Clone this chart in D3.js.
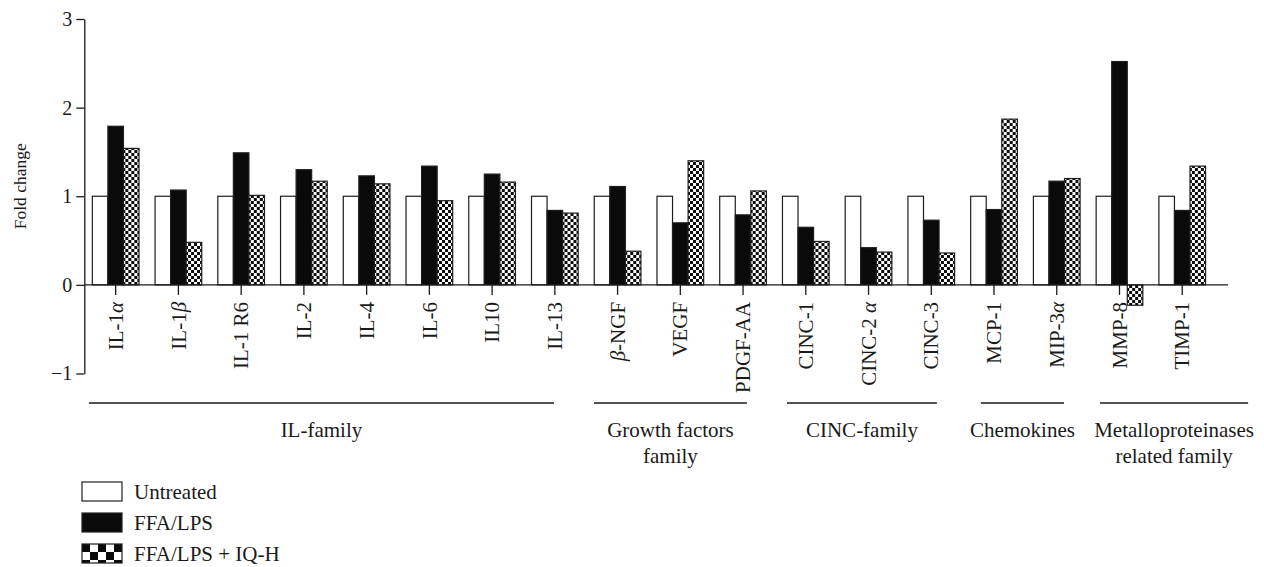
<!DOCTYPE html>
<html>
<head>
<meta charset="utf-8">
<script src="https://cdn.jsdelivr.net/npm/d3@7"></script>
<style>
  html, body { margin: 0; padding: 0; background: #ffffff; }
  svg { display: block; }
  text { font-family: "Liberation Serif", "Times New Roman", serif; fill: #1a1a1a; }
</style>
</head>
<body>
<svg id="chart" width="1264" height="567"></svg>
<script>
// Cytokine array: fold change relative to untreated cells
const categories = ["IL-1α", "IL-1β", "IL-1 R6", "IL-2", "IL-4", "IL-6", "IL10", "IL-13",
  "β-NGF", "VEGF", "PDGF-AA", "CINC-1", "CINC-2 α", "CINC-3", "MCP-1", "MIP-3α", "MMP-8", "TIMP-1"];

const untreated = [1, 1, 1, 1, 1, 1, 1, 1, 1, 1, 1, 1, 1, 1, 1, 1, 1, 1];
const ffaLps    = [1.79, 1.07, 1.49, 1.30, 1.23, 1.34, 1.25, 0.84, 1.11, 0.70, 0.79, 0.65, 0.42, 0.73, 0.85, 1.17, 2.52, 0.84];
const ffaLpsIqh = [1.54, 0.48, 1.01, 1.17, 1.14, 0.95, 1.16, 0.81, 0.38, 1.40, 1.06, 0.49, 0.37, 0.36, 1.87, 1.20, -0.23, 1.34];

const seriesNames = ["Untreated", "FFA/LPS", "FFA/LPS + IQ-H"];
const yTicks = [-1, 0, 1, 2, 3];

// Family brackets under the category labels, spans given in category-index units
const groupNames = [["IL-family"], ["Growth factors", "family"], ["CINC-family"], ["Chemokines"], ["Metalloproteinases", "related family"]];
const groupSpans = [[-0.426, 6.986], [7.624, 10.062], [10.70, 13.09], [13.79, 15.115], [15.69, 18.05]];

const svg = d3.select("#chart");
const ink = "#1a1a1a";
const labelSize = 21;

const x = d3.scaleBand().domain(categories).range([84.3, 1213.6]).paddingInner(0.256).paddingOuter(0.128);
const xs = d3.scaleBand().domain(seriesNames).range([0, x.bandwidth()]);
const y = d3.scaleLinear().domain([-1, 3]).range([373.5, 19]);
const xi = d3.scaleLinear().domain([0, categories.length - 1])
  .range([x(categories[0]) + x.bandwidth() / 2, x(categories[categories.length - 1]) + x.bandwidth() / 2]);

// Checkerboard fills
const defs = svg.append("defs");
function checker(id, cell) {
  const p = defs.append("pattern").attr("id", id).attr("patternUnits", "userSpaceOnUse")
    .attr("width", cell * 2).attr("height", cell * 2);
  p.append("rect").attr("width", cell * 2).attr("height", cell * 2).attr("fill", "#ffffff");
  p.append("rect").attr("width", cell).attr("height", cell).attr("fill", "#0a0a0a");
  p.append("rect").attr("x", cell).attr("y", cell).attr("width", cell).attr("height", cell).attr("fill", "#0a0a0a");
}
checker("checkBar", 3);
checker("checkKey", 8);

const fills = { "Untreated": "#ffffff", "FFA/LPS": "#0a0a0a", "FFA/LPS + IQ-H": "url(#checkBar)" };
const keyFills = { "Untreated": "#ffffff", "FFA/LPS": "#0a0a0a", "FFA/LPS + IQ-H": "url(#checkKey)" };
const values = { "Untreated": untreated, "FFA/LPS": ffaLps, "FFA/LPS + IQ-H": ffaLpsIqh };

// Bars
const groups = svg.append("g").selectAll("g").data(categories).join("g")
  .attr("transform", d => `translate(${x(d)},0)`);
groups.selectAll("rect")
  .data((c, i) => seriesNames.map(s => ({ s, v: values[s][i] })))
  .join("rect")
  .attr("x", d => xs(d.s))
  .attr("width", xs.bandwidth())
  .attr("y", d => Math.min(y(d.v), y(0)))
  .attr("height", d => Math.abs(y(d.v) - y(0)))
  .attr("fill", d => fills[d.s])
  .attr("stroke", "#1e1e1e")
  .attr("stroke-width", 1.2);

// Y axis
const yAxis = svg.append("g").attr("transform", `translate(${x.range()[0]},0)`)
  .call(d3.axisLeft(y).tickValues(yTicks).tickSize(8).tickSizeOuter(0).tickPadding(4)
    .tickFormat(d => d < 0 ? "\u2212" + Math.abs(d) : String(d)));
yAxis.select(".domain").attr("stroke", ink).attr("stroke-width", 1.3);
yAxis.selectAll(".tick line").attr("stroke", ink).attr("stroke-width", 1.3);
yAxis.selectAll(".tick text").attr("font-size", 20).attr("fill", ink)
  .style("font-family", '"Liberation Serif", serif');

svg.append("text")
  .attr("transform", `translate(26,${(y(-1) + y(3)) / 2 - 10}) rotate(-90)`)
  .attr("text-anchor", "middle")
  .attr("font-size", 17.5)
  .text("Fold change");

// X axis with downward ticks at category centres
const xAxis = svg.append("g").attr("transform", `translate(0,${y(0)})`)
  .call(d3.axisBottom(x).tickSize(10).tickSizeOuter(0).tickFormat(""));
xAxis.select(".domain").remove();
xAxis.selectAll(".tick line").attr("stroke", ink).attr("stroke-width", 1.3);
svg.append("line")
  .attr("x1", x.range()[0]).attr("x2", x.range()[1] + 14.5)
  .attr("y1", y(0)).attr("y2", y(0))
  .attr("stroke", ink).attr("stroke-width", 1.3);

// Rotated category labels, Greek letters set in italics
const labels = svg.append("g").selectAll("text").data(categories).join("text")
  .attr("transform", d => `translate(${x(d) + x.bandwidth() / 2},${y(0) + 17}) rotate(-90)`)
  .attr("text-anchor", "end")
  .attr("dy", "0.34em")
  .attr("font-size", labelSize);
labels.each(function (d) {
  const t = d3.select(this);
  d.split(/([αβ])/).filter(s => s.length).forEach(part => {
    const sp = t.append("tspan").text(part);
    if (/[αβ]/.test(part)) sp.attr("font-style", "italic");
  });
});

// Family brackets
const brackets = svg.append("g").selectAll("g").data(groupNames).join("g");
brackets.append("line")
  .attr("x1", (d, i) => xi(groupSpans[i][0]))
  .attr("x2", (d, i) => xi(groupSpans[i][1]))
  .attr("y1", 403).attr("y2", 403)
  .attr("stroke", ink).attr("stroke-width", 1.4);
brackets.each(function (lines, i) {
  const cx = (xi(groupSpans[i][0]) + xi(groupSpans[i][1])) / 2;
  const t = d3.select(this).append("text")
    .attr("x", cx).attr("y", 437)
    .attr("text-anchor", "middle")
    .attr("font-size", labelSize);
  lines.forEach((ln, k) => t.append("tspan").attr("x", cx).attr("dy", k === 0 ? 0 : 26).text(ln));
});

// Legend
const legend = svg.append("g").selectAll("g").data(seriesNames).join("g")
  .attr("transform", (d, i) => `translate(82,${482 + i * 31})`);
legend.append("rect")
  .attr("width", 40).attr("height", 19)
  .attr("fill", d => keyFills[d])
  .attr("stroke", "#1e1e1e").attr("stroke-width", 1.2);
legend.append("text")
  .attr("x", 52).attr("y", 9.5).attr("dy", "0.35em")
  .attr("font-size", labelSize)
  .text(d => d);
</script>
</body>
</html>
